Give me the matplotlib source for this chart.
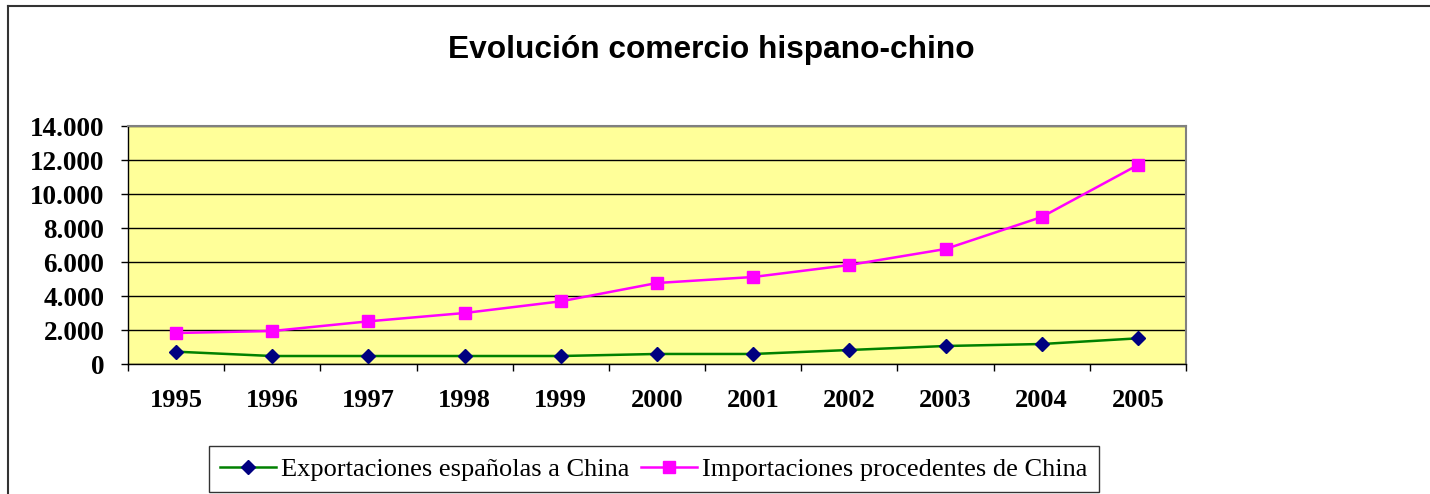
import matplotlib
matplotlib.use("Agg")
import matplotlib.pyplot as plt
from matplotlib.lines import Line2D

years = ["1995", "1996", "1997", "1998", "1999", "2000", "2001", "2002", "2003", "2004", "2005"]
exportaciones = [725, 470, 470, 470, 470, 590, 590, 824, 1059, 1176, 1510]
importaciones = [1824, 1941, 2510, 3000, 3686, 4765, 5118, 5824, 6765, 8647, 11706]
y_ticks = [0, 2000, 4000, 6000, 8000, 10000, 12000, 14000]
y_tick_labels = ["0", "2.000", "4.000", "6.000", "8.000", "10.000", "12.000", "14.000"]
title = "Evolución comercio hispano-chino"
label_exp = "Exportaciones españolas a China"
label_imp = "Importaciones procedentes de China"

W, H = 1430, 494
fig = plt.figure(figsize=(W / 100, H / 100), dpi=100)
fig.patch.set_facecolor("white")

left, right, top, bottom = 128 / W, 1186 / W, 126 / H, 364 / H
ax = fig.add_axes([left, 1 - bottom, right - left, bottom - top])
ax.set_facecolor("#FFFF99")

x = list(range(len(years)))
ax.plot(x, exportaciones, color="#008000", lw=1.8, marker="D", ms=7.4,
        mfc="#000080", mec="#000080", zorder=3, label=label_exp)
ax.plot(x, importaciones, color="#FF00FF", lw=1.8, marker="s", ms=8.6,
        mfc="#FF00FF", mec="#FF00FF", zorder=3, label=label_imp)

ax.set_xlim(-0.5, len(years) - 0.5)
ax.set_ylim(0, 14000)
ax.set_yticks(y_ticks)
ax.set_yticklabels(y_tick_labels)
ax.set_xticks([i - 0.5 for i in range(len(years) + 1)])
ax.set_xticklabels([])
ax.set_xticks(x, minor=True)
ax.set_xticklabels(years, minor=True)
ax.tick_params(axis="x", which="major", direction="out", length=5, width=1, color="black")
ax.tick_params(axis="x", which="minor", length=0, pad=18)
ax.tick_params(axis="y", direction="out", length=5, width=1, color="black", pad=12)

for lab in ax.get_yticklabels():
    lab.set_fontfamily("Liberation Serif")
    lab.set_fontweight("bold")
    lab.set_fontsize(19.6)
for lab in ax.get_xticklabels(minor=True):
    lab.set_fontfamily("Liberation Serif")
    lab.set_fontweight("bold")
    lab.set_fontsize(19)

ax.grid(axis="y", color="black", lw=1, zorder=1)
ax.set_axisbelow(True)
for s in ["top", "right"]:
    ax.spines[s].set_color("#808080")
    ax.spines[s].set_linewidth(1.5)
for s in ["left", "bottom"]:
    ax.spines[s].set_color("black")
    ax.spines[s].set_linewidth(1)

fig.text(711 / W, 1 - 50 / H, title, ha="center", va="center",
         fontfamily="Liberation Sans", fontweight="bold", fontsize=22.8)

leg = fig.legend(loc="center", bbox_to_anchor=(654 / W, 1 - 469 / H), ncol=2,
                 prop={"family": "Liberation Serif", "size": 19},
                 frameon=True, fancybox=False, shadow=False,
                 handlelength=2.1, handletextpad=0.2, columnspacing=0.45,
                 borderpad=0.42, borderaxespad=0)
leg.get_frame().set_edgecolor("black")
leg.get_frame().set_linewidth(1)

# outer chart border (top and left visible)
fig.add_artist(Line2D([8 / W, 1.0], [1 - 6 / H, 1 - 6 / H], color="#333333", lw=1.5,
                      transform=fig.transFigure))
fig.add_artist(Line2D([8 / W, 8 / W], [1 - 6 / H, 0], color="#333333", lw=1.5,
                      transform=fig.transFigure))

fig.savefig("out.png", dpi=100)
